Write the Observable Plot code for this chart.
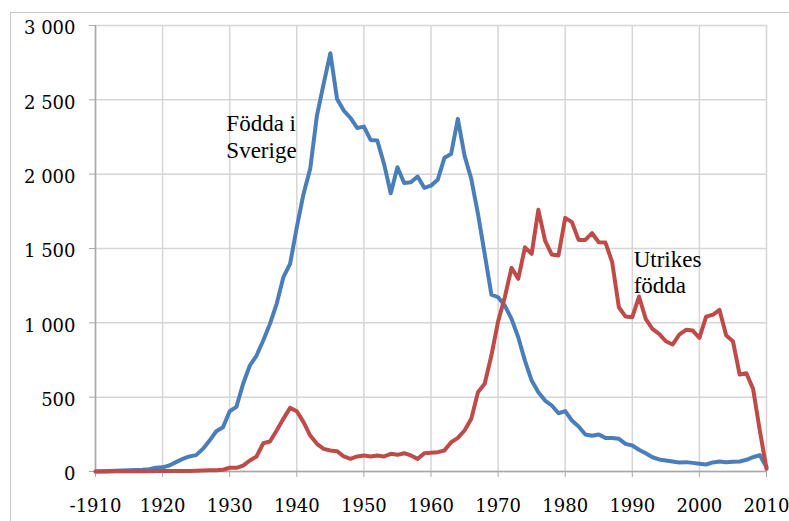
<!DOCTYPE html>
<html>
<head>
<meta charset="utf-8">
<script src="https://cdn.jsdelivr.net/npm/d3@7"></script>
<script src="https://cdn.jsdelivr.net/npm/@observablehq/plot@0.6"></script>
<style>
  html, body { margin: 0; padding: 0; background: #fff; overflow: hidden; }
  #wrap { position: relative; width: 789px; height: 521px; }
  #frame { position: absolute; left: 10px; top: 12px; width: 800px; height: 520px; border: 1px solid #c8c8c8; }
  #chart { position: absolute; left: 0; top: 0; }
</style>
</head>
<body>
<div id="wrap"><div id="frame"></div><div id="chart"></div></div>
<script>
const years = [1910,1911,1912,1913,1914,1915,1916,1917,1918,1919,
  1920,1921,1922,1923,1924,1925,1926,1927,1928,1929,
  1930,1931,1932,1933,1934,1935,1936,1937,1938,1939,
  1940,1941,1942,1943,1944,1945,1946,1947,1948,1949,
  1950,1951,1952,1953,1954,1955,1956,1957,1958,1959,
  1960,1961,1962,1963,1964,1965,1966,1967,1968,1969,
  1970,1971,1972,1973,1974,1975,1976,1977,1978,1979,
  1980,1981,1982,1983,1984,1985,1986,1987,1988,1989,
  1990,1991,1992,1993,1994,1995,1996,1997,1998,1999,
  2000,2001,2002,2003,2004,2005,2006,2007,2008,2009,2010];

const foddaISverige = [0,2,3,5,6,8,10,12,15,25,
  28,40,63,85,101,110,152,208,271,298,
  405,435,590,713,780,881,993,1128,1307,1397,
  1643,1867,2036,2394,2607,2813,2506,2428,2378,2311,
  2320,2230,2226,2069,1872,2047,1941,1946,1984,1908,
  1923,1962,2110,2136,2372,2125,1968,1733,1464,1190,
  1172,1116,1027,903,746,612,533,477,444,392,
  406,343,303,249,240,249,226,226,220,186,
  175,146,123,96,81,74,67,61,63,58,
  52,47,61,67,63,65,67,79,96,110,30];

const utrikesFodda = [0,0,0,1,1,1,2,2,2,3,
  3,3,4,4,4,5,6,8,8,12,
  25,25,40,74,101,190,202,276,354,428,
  405,332,242,186,152,141,137,101,85,101,
  108,101,108,101,119,112,123,108,85,123,
  126,130,141,197,226,276,354,533,590,780,
  1010,1172,1370,1296,1508,1464,1760,1553,1459,1453,
  1706,1677,1558,1558,1603,1542,1540,1408,1105,1042,
  1038,1177,1027,960,926,876,854,921,953,948,
  899,1042,1054,1087,915,876,652,661,556,276,18];

const seriesNames = ["Födda i Sverige", "Utrikes födda"];
const seriesColors = ["#4a7ebb", "#be4b48"];

const xTicks = [1910,1920,1930,1940,1950,1960,1970,1980,1990,2000,2010];
const xTickLabels = ["-1910","1920","1930","1940","1950","1960","1970","1980","1990","2000","2010"];
const yTicks = [0,500,1000,1500,2000,2500,3000];
const yTickLabels = ["0","500","1 000","1 500","2 000","2 500","3 000"];

const annotationTexts = ["Födda i\nSverige", "Utrikes\nfödda"];
const annotationYears = [1929.5, 1990.2];
const annotationValues = [2416, 1505];

const rows = [];
years.forEach((yr, i) => {
  rows.push({year: yr, value: foddaISverige[i], series: seriesNames[0]});
});
years.forEach((yr, i) => {
  rows.push({year: yr, value: utrikesFodda[i], series: seriesNames[1]});
});
const annotations = annotationTexts.map((t, i) => ({text: t, year: annotationYears[i], value: annotationValues[i]}));

const gridColor = "#d6d6d6";
const axisColor = "#a8a8a8";
const tickFont = "DejaVu Serif, Liberation Serif, serif";
const noteFont = "Liberation Serif, DejaVu Serif, serif";

const chart = Plot.plot({
  width: 789,
  height: 521,
  marginLeft: 95,
  marginRight: 23,
  marginTop: 25,
  marginBottom: 50,
  x: {domain: [1910, 2010]},
  y: {domain: [0, 3000]},
  color: {domain: seriesNames, range: seriesColors},
  style: {fontSize: "18px", color: "#000", background: "transparent"},
  marks: [
    Plot.gridX(xTicks, {stroke: gridColor, strokeOpacity: 1, strokeWidth: 1.5}),
    Plot.gridY(yTicks, {stroke: gridColor, strokeOpacity: 1, strokeWidth: 1.5}),
    Plot.ruleX([1910], {stroke: axisColor, strokeWidth: 1.5}),
    Plot.ruleY([0], {stroke: axisColor, strokeWidth: 1.5}),
    Plot.axisX({ticks: xTicks, tickFormat: d => xTickLabels[xTicks.indexOf(d)], tickSize: 6, tickPadding: 22, stroke: axisColor, label: null, fontSize: 18}),
    Plot.axisY({ticks: yTicks, tickSize: 6, text: null, stroke: axisColor, label: null}),
    Plot.axisY({ticks: yTicks, tickFormat: d => yTickLabels[yTicks.indexOf(d)], tickSize: 0, tickPadding: 20, dy: 3, label: null, fontSize: 18}),
    Plot.line(rows, {x: "year", y: "value", z: "series", stroke: "series", strokeWidth: 4, strokeLinejoin: "round", strokeLinecap: "round"}),
    Plot.text(annotations, {x: "year", y: "value", text: "text", textAnchor: "start", lineAnchor: "top", lineHeight: 1.15, fontSize: 23, fill: "#000"})
  ]
});
chart.setAttribute("font-family", noteFont);
chart.querySelectorAll("text").forEach(el => {
  const g = el.closest("g[aria-label]");
  const label = g ? g.getAttribute("aria-label") : "";
  el.style.fontFamily = label.includes("tick label") ? tickFont : noteFont;
});
document.getElementById("chart").appendChild(chart);
</script>
</body>
</html>
